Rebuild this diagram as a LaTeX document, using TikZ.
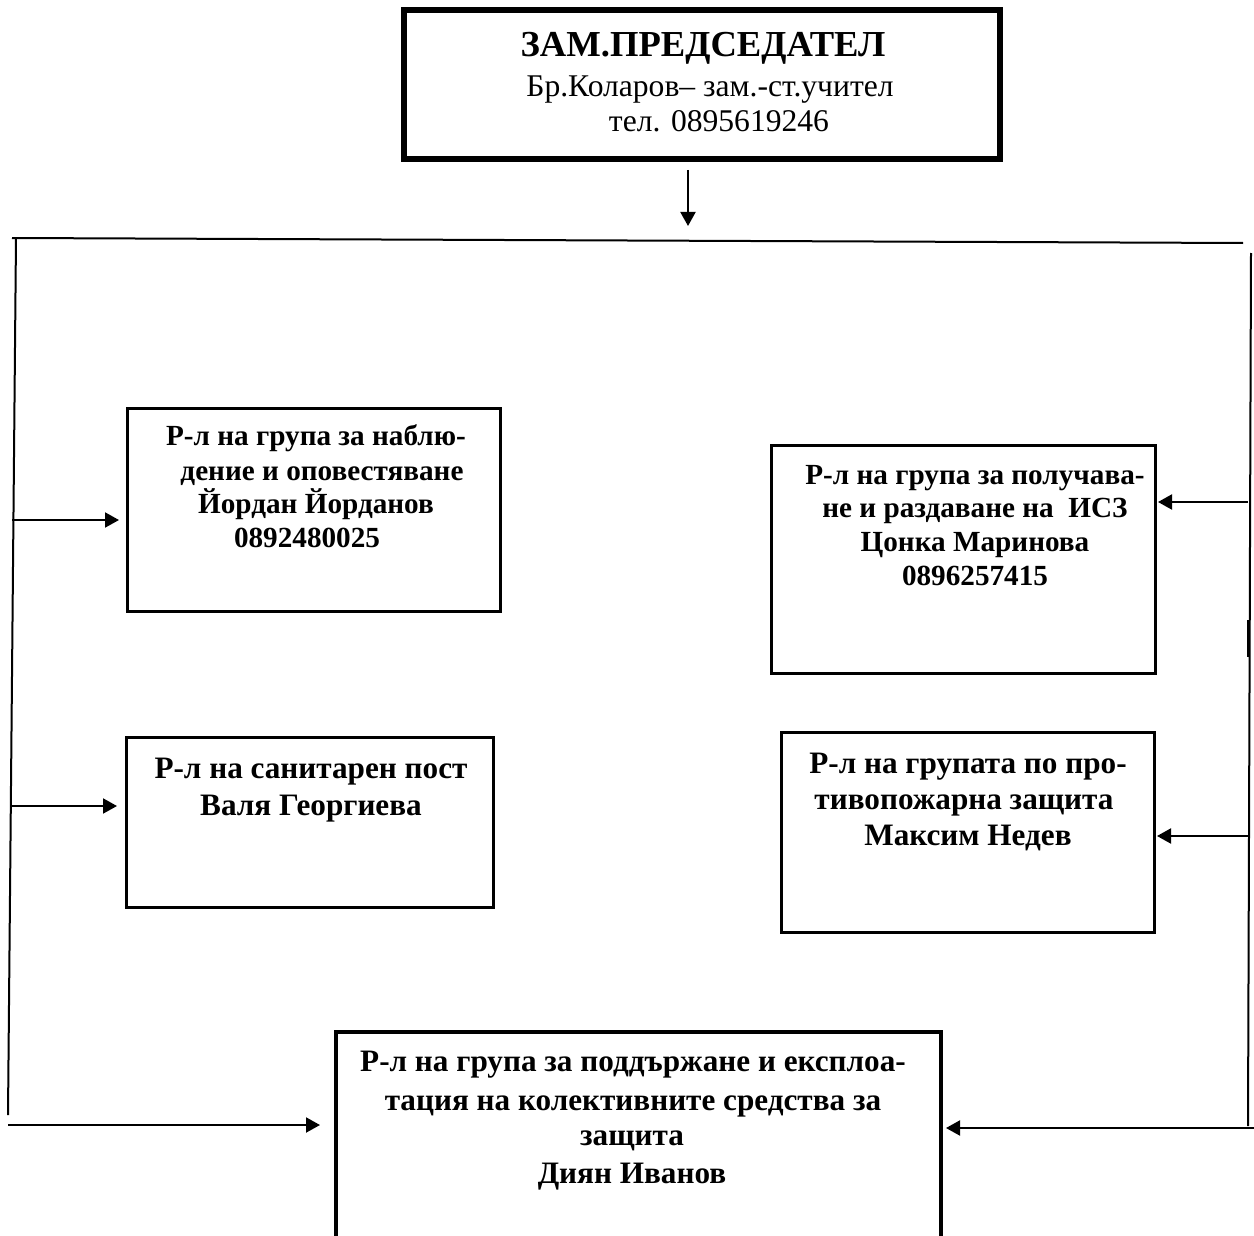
\documentclass[tikz,border=0pt]{standalone}
\usepackage{fontspec}
\setmainfont{Liberation Serif}[BoldFont={Liberation Serif Bold}]
\usetikzlibrary{arrows.meta}
\begin{document}
\begin{tikzpicture}[x=0.5pt,y=-0.5pt,
  box/.style={draw, line width=1.5pt, inner sep=0pt},
  txt/.style={anchor=base, inner sep=0pt, font=\fontsize{14.6}{17}\selectfont\bfseries},
  txtb/.style={anchor=base, inner sep=0pt, font=\fontsize{15.6}{18}\selectfont\bfseries},
  conn/.style={line width=1pt, -{Triangle[length=7pt,width=7.5pt]}},
  wire/.style={line width=1pt}]
\clip (0,0) rectangle (1254,1236);
\fill[white] (0,0) rectangle (1254,1236);

% top box
\node[box, line width=3pt, minimum width=298pt, minimum height=74.5pt] (top) at (702,84.5) {};
\node[anchor=base, inner sep=0pt, font=\fontsize{18.3}{22}\selectfont\bfseries] (t0a) at (703,57) {ЗАМ.ПРЕДСЕДАТЕЛ};
\node[anchor=base, inner sep=0pt, font=\fontsize{15.8}{18}\selectfont] (t0b) at (710,97) {Бр.Коларов– зам.-ст.учител};
\node[anchor=base, inner sep=0pt, font=\fontsize{15.8}{18}\selectfont] (t0c) at (719,132) {тел. 0895619246};

% boxes
\node[box, minimum width=186.25pt, minimum height=101.5pt] (b1) at (313.75,510) {};
\node[box, minimum width=192pt, minimum height=114pt] (b2) at (963.5,559.5) {};
\node[box, minimum width=183.5pt, minimum height=85pt] (b3) at (310,822.5) {};
\node[box, minimum width=186.5pt, minimum height=100pt] (b4) at (968,832.5) {};
\node[box, line width=2pt, minimum width=302.5pt, minimum height=134pt] (b5) at (638.5,1166) {};

% box texts
\node[txt] (t1a) at (316,445) {Р-л на група за наблю-};
\node[txt] (t1b) at (322,480) {дение и оповестяване};
\node[txt] (t1c) at (316,513) {Йордан Йорданов};
\node[txt] (t1d) at (307,547) {0892480025};

\node[txt] (t2a) at (975,484) {Р-л на група за получава-};
\node[txt] (t2b) at (975,517) {не и раздаване на\ \ ИСЗ};
\node[txt] (t2c) at (975,551) {Цонка Маринова};
\node[txt] (t2d) at (975,585) {0896257415};

\node[txtb] (t3a) at (311,778) {Р-л на санитарен пост};
\node[txtb] (t3b) at (311,815) {Валя Георгиева};

\node[txtb] (t4a) at (968,773) {Р-л на групата по про-};
\node[txtb] (t4b) at (964,809) {тивопожарна защита};
\node[txtb] (t4c) at (968,845) {Максим Недев};

\node[txtb] (t5a) at (633,1071) {Р-л на група за поддържане и експлоа-};
\node[txtb] (t5b) at (633,1110) {тация на колективните средства за};
\node[txtb] (t5c) at (632,1145) {защита};
\node[txtb] (t5d) at (632,1183) {Диян Иванов};

% distribution wires
\coordinate (a0s) at (688,170);
\coordinate (a0e) at (688,226);
\draw[conn] (a0s) -- (a0e);
\coordinate (hl) at (12,238);
\coordinate (hr) at (1243,243);
\draw[wire] (hl) -- (hr);
\coordinate (lt) at (16,238);
\coordinate (lb) at (8,1115);
\draw[wire] (lt) -- (lb);
\coordinate (rt) at (1251,253);
\coordinate (rb) at (1248,1126);
\draw[wire] (rt) -- (rb);
\coordinate (rs1) at (1248,620);
\coordinate (rs2) at (1248,657);
\draw[line width=1.5pt] (rs1) -- (rs2);

% left arrows
\coordinate (la1) at (12,520);
\coordinate (la2) at (11,806);
\coordinate (la3) at (8,1125);
\draw[conn, shorten >=3.5pt] (la1) -- (la1 -| b1.west);
\draw[conn, shorten >=4pt] (la2) -- (la2 -| b3.west);
\draw[conn, shorten >=7pt] (la3) -- (la3 -| b5.west);

% right arrows
\coordinate (ra1) at (1248,502);
\coordinate (ra2) at (1248,836);
\coordinate (ra3) at (1254,1128);
\draw[conn, shorten >=0.5pt] (ra1) -- (ra1 -| b2.east);
\draw[conn, shorten >=0.5pt] (ra2) -- (ra2 -| b4.east);
\draw[conn, shorten >=1.5pt] (ra3) -- (ra3 -| b5.east);
\end{tikzpicture}
\end{document}
